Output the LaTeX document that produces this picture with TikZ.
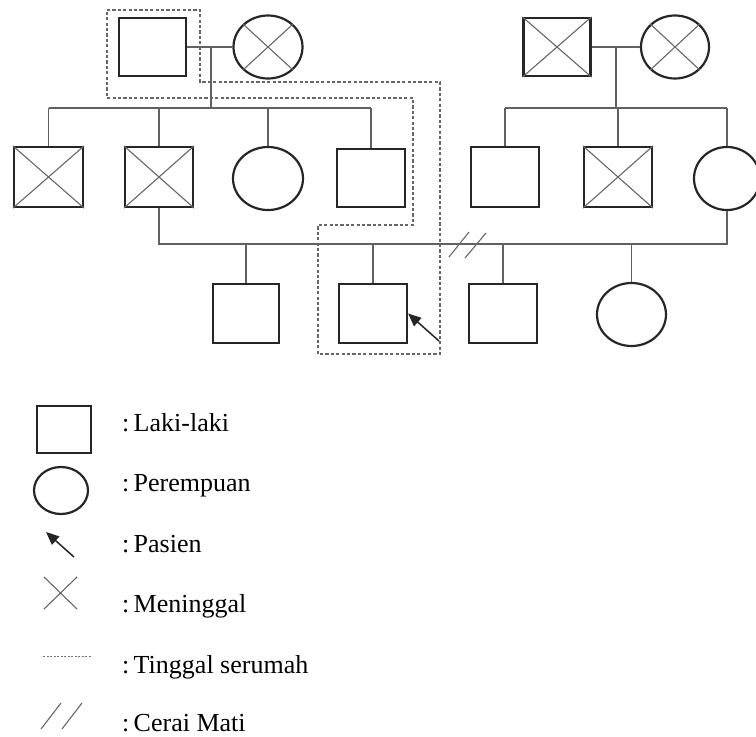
\documentclass[tikz,border=0pt]{standalone}
\usepackage{fontspec}
\setmainfont{Liberation Serif}
\usetikzlibrary{shapes.geometric,arrows.meta,calc}
\begin{document}
\begin{tikzpicture}[x=1pt,y=-1pt,
  male/.style={draw=black!85,line width=2.2pt,rectangle,minimum width=67pt,minimum height=58pt,inner sep=0pt},
  female/.style={draw=black!85,line width=2.2pt,ellipse,minimum width=69pt,minimum height=63pt,inner sep=0pt},
  link/.style={draw=black!62,line width=1.6pt},
  crossline/.style={draw=black!60,line width=1.1pt},
  house/.style={draw=black!60,line width=1.3pt,dash pattern=on 3.2pt off 2.2pt},
  pointer/.style={draw=black!85,line width=1.5pt,-{Triangle[length=13pt,width=11pt]}},
  legtext/.style={anchor=base west,font=\fontsize{26}{30}\selectfont,inner sep=0pt}
]
\clip (0,0) rectangle (756,737);
% generation I
\node[male]   (gf1) at (152.5,47) {};
\node[female] (gm1) at (268,47) {};
\node[male]   (gf2) at (557,47) {};
\node[female, minimum width=68pt] (gm2) at (675,47) {};
% generation II
\node[male, minimum width=69pt, minimum height=60pt] (c1) at (48.5,177) {};
\node[male, minimum width=68pt, minimum height=60pt] (c2) at (159,177) {};
\node[female, minimum width=70pt] (c3) at (268,178.5) {};
\node[male, minimum width=68pt] (c4) at (371,178) {};
\node[male, minimum width=68pt, minimum height=60pt] (c5) at (505,177) {};
\node[male, minimum width=68pt, minimum height=60pt] (c6) at (618,177) {};
\node[female, minimum width=66pt] (c7) at (727,178.5) {};
% generation III
\node[male, minimum width=66pt, minimum height=59pt] (g1) at (246,313.5) {};
\node[male, minimum width=68pt, minimum height=59pt] (g2) at (373,313.5) {};
\node[male, minimum width=68pt, minimum height=59pt] (g3) at (503,313.5) {};
\node[female, minimum width=69pt] (g4) at (631.5,314.5) {};
% crosses (deceased)
\foreach \n in {gf2,c1,c2,c6}{
  \draw[crossline] (\n.north west) -- (\n.south east) (\n.north east) -- (\n.south west);
}
\foreach \n in {gm1,gm2}{
  \draw[crossline] (\n.north east) -- (\n.south west) (\n.north west) -- (\n.south east);
}
% left family
\draw[link] (gf1.east) -- (gm1.west);
\coordinate (m1) at ($(gf1.east)!0.53!(gm1.west)$);
\coordinate (s1) at (0,108);
\draw[link] (m1) -- (m1 |- s1);
\draw[link] (c1.north |- s1) -- (c4.north |- s1);
\foreach \n in {c1,c2,c3,c4}{ \draw[link] (\n.north |- s1) -- (\n.north); }
% right family
\draw[link] (gf2.east) -- (gm2.west);
\coordinate (m2) at ($(gf2.east)!0.5!(gm2.west)$);
\draw[link] (m2) -- (m2 |- s1);
\draw[link] (c5.north |- s1) -- (c7.north |- s1);
\foreach \n in {c5,c6,c7}{ \draw[link] (\n.north |- s1) -- (\n.north); }
% marriage of c2 and c7
\coordinate (mar) at (0,244);
\draw[link] (c2.south) |- (c7.south |- mar) -- (c7.south);
\foreach \n in {g1,g2,g3,g4}{ \draw[link] (\n.north |- mar) -- (\n.north); }
% divorce marks
\draw[crossline] (449,257) -- (469,232) (465,258) -- (486,233);
% household
\draw[house] (107,10) -- (200,10) -- (200,82) -- (440,82) -- (440,354) -- (318,354) -- (318,225) -- (413,225) -- (413,98) -- (107,98) -- cycle;
% patient arrow
\coordinate (pt) at (439,341);
\draw[pointer] (pt) -- (g2.east);
% legend
\node[male, minimum width=54pt, minimum height=47pt] (lm) at (64,429.5) {};
\node[female, minimum width=54pt, minimum height=47pt] (lf) at (61,490.5) {};
\coordinate (la1) at (74,557); \coordinate (la2) at (46,532);
\draw[pointer] (la1) -- (la2);
\draw[crossline] (44,577) -- (77,609) (44,609) -- (77,577);
\draw[draw=black!55,line width=0.9pt,dash pattern=on 2pt off 1.5pt] (43,656) -- (91,656);
\draw[crossline] (41,729) -- (61,703) (62,729) -- (82,703);
\node[legtext] (t1) at (122,431) {:\,Laki-laki};
\node[legtext] (t2) at (122,491) {:\,Perempuan};
\node[legtext] (t3) at (122,552) {:\,Pasien};
\node[legtext] (t4) at (122,612) {:\,Meninggal};
\node[legtext] (t5) at (122,673) {:\,Tinggal serumah};
\node[legtext] (t6) at (122,731) {:\,Cerai Mati};
\end{tikzpicture}
\end{document}
